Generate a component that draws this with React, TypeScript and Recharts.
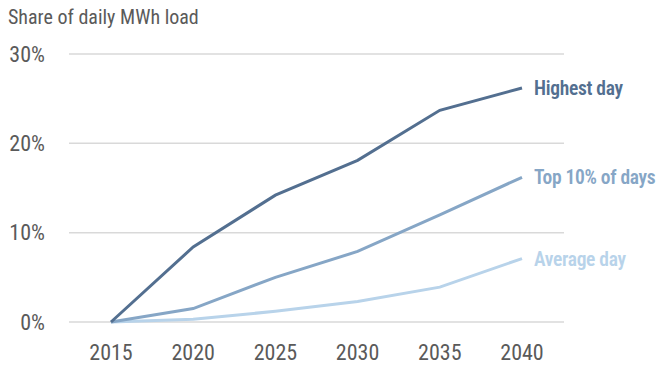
import React from 'react';
import { LineChart, Line, XAxis, YAxis, CartesianGrid } from 'recharts';

const years = ['2015', '2020', '2025', '2030', '2035', '2040'];
const highestDay = [0, 8.4, 14.2, 18.1, 23.7, 26.2];
const top10 = [0, 1.5, 5.0, 7.9, 12.0, 16.2];
const averageDay = [0, 0.3, 1.2, 2.3, 3.9, 7.1];
const yTicks = [0, 10, 20, 30];
const seriesNames = ['Highest day', 'Top 10% of days', 'Average day'];

const data = years.map((y, i) => ({
  year: y,
  highest: highestDay[i],
  top10: top10[i],
  average: averageDay[i],
}));

const FONT = "'Liberation Sans Narrow', 'Roboto Condensed', Lato, sans-serif";

const makeLabel = (text: string, color: string) => (props: any) => {
  const { x, y, index } = props;
  if (index !== years.length - 1) return null;
  return (
    <text
      x={x + 12}
      y={y + 7}
      fill={color}
      fontSize={19.5}
      fontFamily={FONT}
      fontWeight={600}
      letterSpacing={-0.3}
    >
      {text}
    </text>
  );
};

export default function App() {
  return (
    <div style={{ position: 'absolute', left: 0, top: 0, width: 660, height: 365, background: '#fff' }}>
      <div
        style={{
          position: 'absolute',
          left: 8,
          top: 5,
          fontFamily: FONT,
          fontSize: 20,
          color: '#5a5a5a',
        }}
      >
        Share of daily MWh load
      </div>
      <LineChart
        width={660}
        height={365}
        data={data}
        margin={{ top: 54, right: 96, bottom: 13, left: 0 }}
      >
        <CartesianGrid vertical={false} stroke="#d9d9d9" strokeWidth={1.5} />
        <XAxis
          dataKey="year"
          axisLine={false}
          tickLine={false}
          padding={{ left: 42, right: 42 }}
          height={30}
          tickMargin={16}
          tick={{ fill: '#5a5a5a', fontSize: 22, fontFamily: FONT }}
          interval={0}
        />
        <YAxis
          domain={[0, 30]}
          ticks={yTicks}
          axisLine={false}
          tickLine={false}
          width={69}
          tickMargin={18}
          tickFormatter={(v: number) => `${v}%`}
          tick={{ fill: '#5a5a5a', fontSize: 22, fontFamily: FONT }}
        />
        <Line
          dataKey="average"
          stroke="#b8d3ea"
          strokeWidth={3}
          dot={false}
          isAnimationActive={false}
          label={makeLabel(seriesNames[2], '#b8d3ea')}
        />
        <Line
          dataKey="top10"
          stroke="#86a6c6"
          strokeWidth={3}
          dot={false}
          isAnimationActive={false}
          label={makeLabel(seriesNames[1], '#86a6c6')}
        />
        <Line
          dataKey="highest"
          stroke="#536f90"
          strokeWidth={3}
          dot={false}
          isAnimationActive={false}
          label={makeLabel(seriesNames[0], '#536f90')}
        />
      </LineChart>
    </div>
  );
}
